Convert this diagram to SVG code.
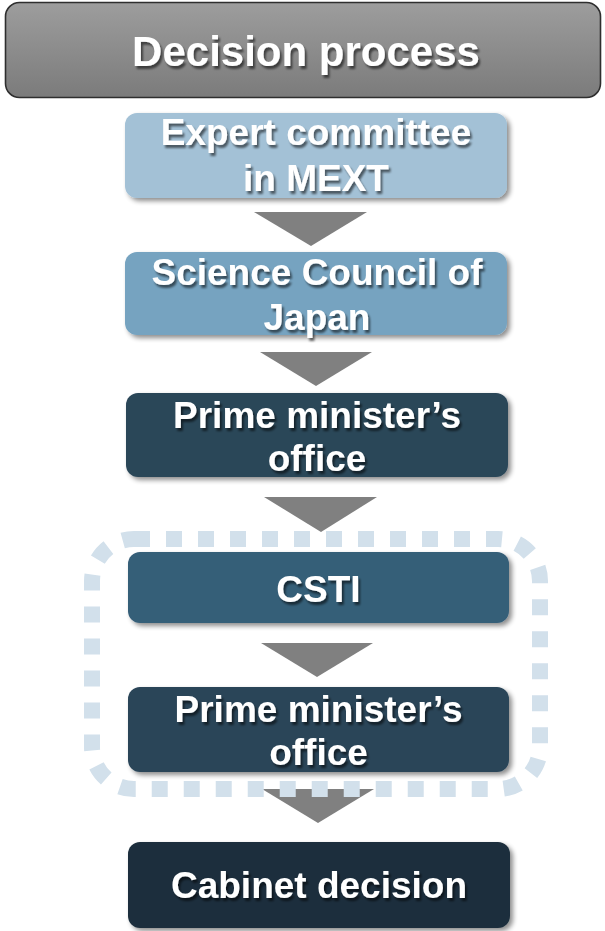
<svg xmlns="http://www.w3.org/2000/svg" width="605" height="931" viewBox="0 0 605 931">
  <defs>
    <linearGradient id="hdrGrad" x1="0" y1="0" x2="0" y2="1">
      <stop offset="0" stop-color="#9d9d9d"/>
      <stop offset="1" stop-color="#7b7b7b"/>
    </linearGradient>
    <filter id="boxShadow" x="-10%" y="-20%" width="125%" height="150%">
      <feGaussianBlur in="SourceAlpha" stdDeviation="2.5"/>
      <feOffset dx="3" dy="3" result="b"/>
      <feComponentTransfer><feFuncA type="linear" slope="0.45"/></feComponentTransfer>
      <feMerge><feMergeNode/><feMergeNode in="SourceGraphic"/></feMerge>
    </filter>
    <filter id="textShadow" x="-10%" y="-20%" width="125%" height="150%">
      <feGaussianBlur in="SourceAlpha" stdDeviation="1.2"/>
      <feOffset dx="2" dy="2.5" result="b"/>
      <feComponentTransfer><feFuncA type="linear" slope="0.55"/></feComponentTransfer>
      <feMerge><feMergeNode/><feMergeNode in="SourceGraphic"/></feMerge>
    </filter>
  </defs>
  <style>
    .lbl { font-family: "Liberation Sans", Arial, sans-serif; font-weight: bold; font-size: 37px; fill: #ffffff; text-anchor: middle; filter: url(#textShadow); }
    .hdr { font-size: 42px; }
    .box { filter: url(#boxShadow); }
    .arrow { fill: #808080; }
    .frame { fill: none; stroke: #d2e0eb; stroke-width: 16; stroke-dasharray: 16 16; }
  </style>

  <!-- title bar -->
  <g id="title">
    <rect x="5.5" y="2.5" width="595" height="95" rx="14" fill="url(#hdrGrad)" stroke="#2e2e2e" stroke-width="1.6"/>
    <text class="lbl hdr" x="306" y="66">Decision process</text>
  </g>

  <!-- downward step arrows -->
  <g id="connectors">
    <polygon class="arrow" points="254,212 367,212 311,246"/>
    <polygon class="arrow" points="260,352 372,352 316,386"/>
    <polygon class="arrow" points="264,497 377,497 321,532"/>
    <polygon class="arrow" points="261,643 373,643 317,677"/>
    <polygon class="arrow" points="262,789 374,789 318,823"/>
  </g>

  <!-- dotted grouping around CSTI and the second office step -->
  <g id="csti-group">
    <rect class="frame" x="92" y="539" width="448" height="250" rx="42"/>
  </g>

  <g id="expert-committee">
    <rect class="box" x="125" y="113" width="382" height="85" rx="12" fill="#a3c1d6"/>
    <text class="lbl" x="316" y="145">Expert committee</text>
    <text class="lbl" x="316" y="191">in MEXT</text>
  </g>

  <g id="science-council">
    <rect class="box" x="125" y="252" width="382" height="83" rx="12" fill="#76a3c0"/>
    <text class="lbl" x="317" y="285">Science Council of</text>
    <text class="lbl" x="317" y="330">Japan</text>
  </g>

  <g id="pm-office-1">
    <rect class="box" x="126" y="393" width="382" height="84" rx="12" fill="#2b4659"/>
    <text class="lbl" x="317" y="428">Prime minister’s</text>
    <text class="lbl" x="317" y="471">office</text>
  </g>

  <g id="csti">
    <rect class="box" x="128" y="552" width="381" height="71" rx="12" fill="#365e78"/>
    <text class="lbl" x="318.5" y="602">CSTI</text>
  </g>

  <g id="pm-office-2">
    <rect class="box" x="128" y="687" width="381" height="85" rx="12" fill="#2a4558"/>
    <text class="lbl" x="318.5" y="722">Prime minister’s</text>
    <text class="lbl" x="318.5" y="765">office</text>
  </g>

  <g id="cabinet-decision">
    <rect class="box" x="128" y="842" width="382" height="86" rx="12" fill="#1f2f3d"/>
    <text class="lbl" x="319" y="898">Cabinet decision</text>
  </g>
</svg>
